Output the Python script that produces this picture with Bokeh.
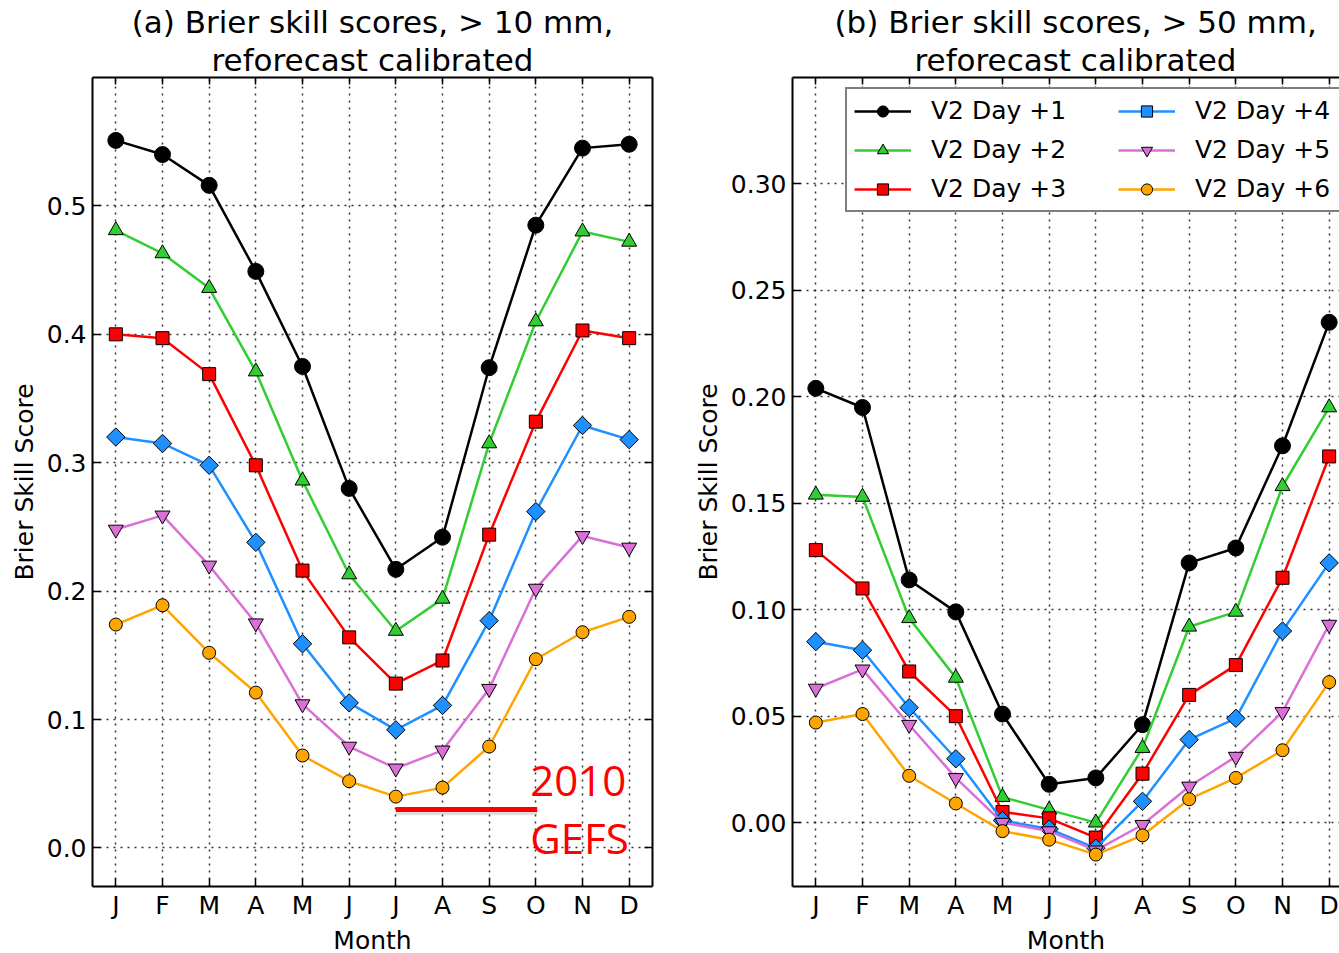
from bokeh.plotting import figure
from bokeh.models import (FixedTicker, LinearAxis, Range1d, Legend, LegendItem, Title)
from bokeh.layouts import row
from bokeh.core.properties import value
from bokeh.embed import file_html
from bokeh.resources import INLINE

months = [1, 2, 3, 4, 5, 6, 7, 8, 9, 10, 11, 12]
month_labels = ["J", "F", "M", "A", "M", "J", "J", "A", "S", "O", "N", "D"]
series_names = ["V2 Day +1", "V2 Day +2", "V2 Day +3", "V2 Day +4", "V2 Day +5", "V2 Day +6"]

# (a) > 10 mm
a_day1 = [0.551, 0.540, 0.516, 0.449, 0.375, 0.280, 0.217, 0.242, 0.374, 0.485, 0.545, 0.548]
a_day2 = [0.481, 0.463, 0.436, 0.371, 0.286, 0.213, 0.169, 0.194, 0.315, 0.410, 0.480, 0.472]
a_day3 = [0.400, 0.397, 0.369, 0.298, 0.216, 0.164, 0.128, 0.146, 0.244, 0.332, 0.403, 0.397]
a_day4 = [0.320, 0.315, 0.298, 0.238, 0.159, 0.113, 0.092, 0.111, 0.177, 0.262, 0.329, 0.318]
a_day5 = [0.248, 0.259, 0.220, 0.175, 0.112, 0.079, 0.062, 0.076, 0.124, 0.202, 0.243, 0.234]
a_day6 = [0.174, 0.189, 0.152, 0.121, 0.072, 0.052, 0.040, 0.047, 0.079, 0.147, 0.168, 0.180]

# (b) > 50 mm
b_day1 = [0.204, 0.195, 0.114, 0.099, 0.051, 0.018, 0.021, 0.046, 0.122, 0.129, 0.177, 0.235]
b_day2 = [0.154, 0.153, 0.096, 0.068, 0.012, 0.006, 0.000, 0.035, 0.092, 0.099, 0.158, 0.195]
b_day3 = [0.128, 0.110, 0.071, 0.050, 0.005, 0.002, -0.007, 0.023, 0.060, 0.074, 0.115, 0.172]
b_day4 = [0.085, 0.081, 0.054, 0.030, 0.001, -0.003, -0.012, 0.010, 0.039, 0.049, 0.090, 0.122]
b_day5 = [0.063, 0.072, 0.046, 0.021, 0.000, -0.004, -0.013, -0.001, 0.017, 0.031, 0.052, 0.093]
b_day6 = [0.047, 0.051, 0.022, 0.009, -0.004, -0.008, -0.015, -0.006, 0.011, 0.021, 0.034, 0.066]

a_yticks = [0.0, 0.1, 0.2, 0.3, 0.4, 0.5]
a_ytick_labels = ["0.0", "0.1", "0.2", "0.3", "0.4", "0.5"]
b_yticks = [0.0, 0.05, 0.10, 0.15, 0.20, 0.25, 0.30]
b_ytick_labels = ["0.00", "0.05", "0.10", "0.15", "0.20", "0.25", "0.30"]

a_title = ["(a) Brier skill scores, > 10 mm,", "reforecast calibrated"]
b_title = ["(b) Brier skill scores, > 50 mm,", "reforecast calibrated"]

gefs_line_x = [7, 10.03]
gefs_line_y = [0.030, 0.030]
gefs_text = ["2010", "GEFS"]
gefs_text_x = [9.88, 9.88]
gefs_text_y = [0.052, 0.008]

colors = ["black", "#32CD32", "#FF0000", "#1E90FF", "#DA70D6", "#FFA500"]
markers = ["circle", "triangle", "square", "square", "inverted_triangle", "circle"]
msizes = [16, 15, 13, 13, 15, 13]
angles = [0, 0, 0, 0.785398, 0, 0]

FONT = "DejaVu Sans"


def add_titles(p, lines, align="center", offsets=(0, 0)):
    t2 = Title(text=lines[1], align=align, text_font=FONT, text_font_size="31px",
               text_font_style="normal", text_color="black", standoff=0, offset=offsets[1])
    p.add_layout(t2, "above")
    t1 = Title(text=lines[0], align=align, text_font=FONT, text_font_size="31px",
               text_font_style="normal", text_color="black", standoff=0, offset=offsets[0])
    p.add_layout(t1, "above")


def style_axes(p, yticks, ylabels, with_right=True):
    p.xaxis.ticker = FixedTicker(ticks=months)
    p.yaxis.ticker = FixedTicker(ticks=yticks)
    p.xaxis.major_label_overrides = {m: l for m, l in zip(months, month_labels)}
    p.yaxis.major_label_overrides = {t: l for t, l in zip(yticks, ylabels)}
    for ax in [p.xaxis[0], p.yaxis[0]]:
        ax.major_label_text_font = FONT
        ax.major_label_text_font_size = "25px"
        ax.major_label_text_color = "black"
        ax.axis_label_text_font = FONT
        ax.axis_label_text_font_size = "25px"
        ax.axis_label_text_font_style = "normal"
        ax.axis_label_text_color = "black"
        ax.major_tick_in = 8
        ax.major_tick_out = 0
        ax.major_tick_line_color = "black"
        ax.major_tick_line_width = 1.5
        ax.minor_tick_line_color = None
        ax.axis_line_color = "black"
        ax.axis_line_width = 2
    p.xaxis.major_label_standoff = 4
    p.xaxis.axis_label_standoff = 3
    p.yaxis.major_label_standoff = 6
    p.yaxis.axis_label_standoff = 5
    top = LinearAxis(ticker=FixedTicker(ticks=months), major_label_text_font_size="1px",
                     major_label_text_color=None,
                     major_tick_in=7, major_tick_out=0, major_label_standoff=0,
                     axis_line_color="black", axis_line_width=2,
                     major_tick_line_width=1.5, minor_tick_line_color=None)
    p.add_layout(top, "above")
    if with_right:
        right = LinearAxis(ticker=FixedTicker(ticks=yticks), major_label_text_font_size="1px",
                           major_label_text_color=None,
                           major_tick_in=8, major_tick_out=0, major_label_standoff=0,
                           axis_line_color="black", axis_line_width=2,
                           major_tick_line_width=1.5, minor_tick_line_color=None)
        p.add_layout(right, "right")
    for g in [p.xgrid[0], p.ygrid[0]]:
        g.grid_line_color = "black"
        g.grid_line_dash = "2 5"
        g.grid_line_width = 1.5
        g.grid_line_alpha = 0.8


def draw_series(p, data):
    rs = []
    for i, ys in enumerate(data):
        l = p.line(months, ys, line_color=colors[i], line_width=2.5)
        s = p.scatter(months, ys, marker=markers[i], size=msizes[i], angle=angles[i],
                      fill_color=colors[i], line_color="black", line_width=1)
        rs.append((l, s))
    return rs


p1 = figure(frame_width=560, frame_height=809, x_range=Range1d(0.5, 12.5), y_range=Range1d(-0.03, 0.6),
            output_backend="svg", toolbar_location=None, title=None,
            min_border_left=92, min_border_right=30, min_border_top=77, min_border_bottom=5,
            x_axis_label="Month", y_axis_label="Brier Skill Score",
            background_fill_color="white", border_fill_color="white")
style_axes(p1, a_yticks, a_ytick_labels, with_right=True)
add_titles(p1, a_title)
p1.outline_line_color = None
draw_series(p1, [a_day1, a_day2, a_day3, a_day4, a_day5, a_day6])
p1.line(gefs_line_x, [v - 0.0025 for v in gefs_line_y], line_color="grey", line_width=5, line_alpha=0.25)
p1.line(gefs_line_x, gefs_line_y, line_color="#FF0000", line_width=5)
p1.text(gefs_text_x, gefs_text_y, text=gefs_text, text_color="#FF0000",
        text_font=value("Open Sans"), text_font_size="42px", text_baseline="alphabetic", text_align="left")

b_xend = 0.5 + 547 / (560 / 12)
p2 = figure(frame_width=547, frame_height=809, x_range=Range1d(0.5, b_xend), y_range=Range1d(-0.03, 0.35),
            output_backend="svg", toolbar_location=None, title=None,
            min_border_left=110, min_border_right=0, min_border_top=77, min_border_bottom=5,
            x_axis_label="Month", y_axis_label="Brier Skill Score",
            background_fill_color="white", border_fill_color="white")
style_axes(p2, b_yticks, b_ytick_labels, with_right=False)
add_titles(p2, b_title, align="left", offsets=(42, 122))
p2.outline_line_color = None
rs = draw_series(p2, [b_day1, b_day2, b_day3, b_day4, b_day5, b_day6])

items = [LegendItem(label=series_names[i], renderers=[rs[i][0], rs[i][1]]) for i in range(6)]
leg = Legend(items=items, ncols=2, orientation="vertical", location=(53, 674),
             label_text_font=FONT, label_text_font_size="25px", label_text_color="black",
             glyph_width=57, glyph_height=28, label_height=28, label_width=177,
             label_standoff=20, spacing=10, padding=7,
             border_line_color="black", border_line_width=2, background_fill_alpha=1)
p2.add_layout(leg, "center")

layout = row(p1, p2)
open("out.html", "w").write(file_html(layout, INLINE))
